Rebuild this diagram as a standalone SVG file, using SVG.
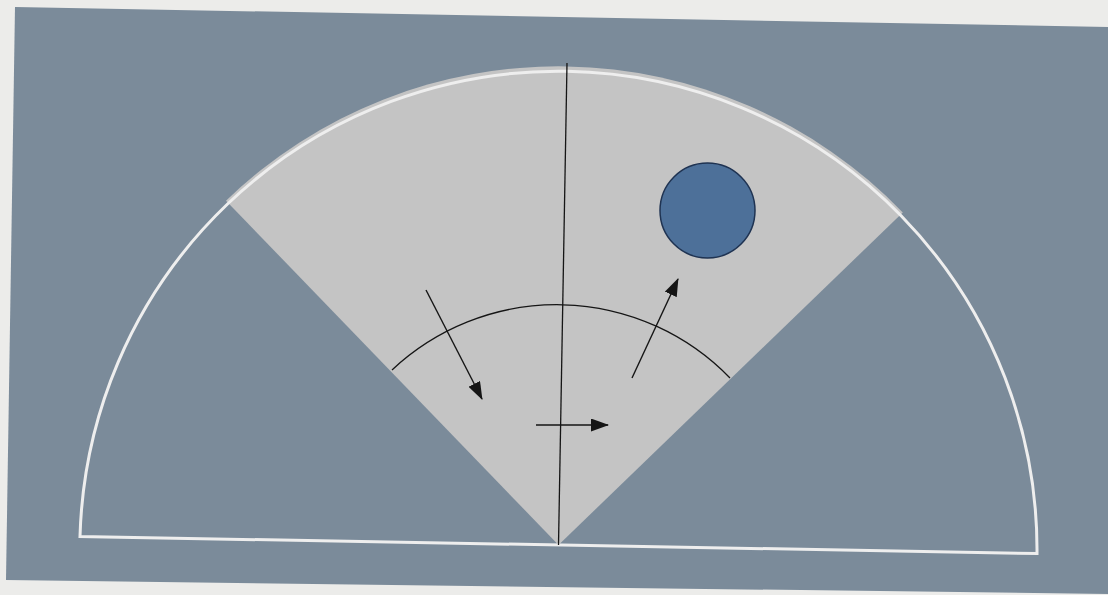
<svg xmlns="http://www.w3.org/2000/svg" width="1108" height="595" viewBox="0 0 1108 595">
<defs>
<style>
.ln{stroke:#151515;stroke-width:1.3;fill:none}
.ar{stroke:#151515;stroke-width:1.4;fill:none;marker-end:url(#ah)}
</style>
<marker id="ah" viewBox="0 0 18 13" refX="17" refY="6.5" markerWidth="18" markerHeight="13" markerUnits="userSpaceOnUse" orient="auto">
<path d="M0,0 L18,6.5 L0,13 Z" fill="#151515"/>
</marker>
</defs>
<rect x="0" y="0" width="1108" height="595" fill="#ececea"/>
<g id="panel">
<polygon points="15,7 1108,27 1108,594 6,580" fill="#7b8b9a"/>
</g>
<g id="sector">
<path d="M558.5,545 L226,200.7 A478.6,478.6 0 0 1 902.8,212.5 Z" fill="#c4c4c4"/>
</g>
<g id="semicircle">
<path d="M80,536.5 A478.6,478.6 0 0 1 1037,553.5 Z" fill="none" stroke="#eeeeee" stroke-width="3"/>
</g>
<g id="axis">
<line class="ln" x1="558.5" y1="545" x2="567" y2="63"/>
</g>
<g id="inner-arc">
<path class="ln" d="M392,370 A241,241 0 0 1 730,378"/>
</g>
<g id="target">
<circle cx="707.5" cy="210.5" r="47.5" fill="#4d7099" stroke="#1f3352" stroke-width="1.5"/>
</g>
<g id="connectors">
<line class="ar" x1="426" y1="290" x2="482" y2="399"/>
<line class="ar" x1="536" y1="425" x2="608" y2="425"/>
<line class="ar" x1="632" y1="378" x2="678" y2="279"/>
</g>
</svg>
